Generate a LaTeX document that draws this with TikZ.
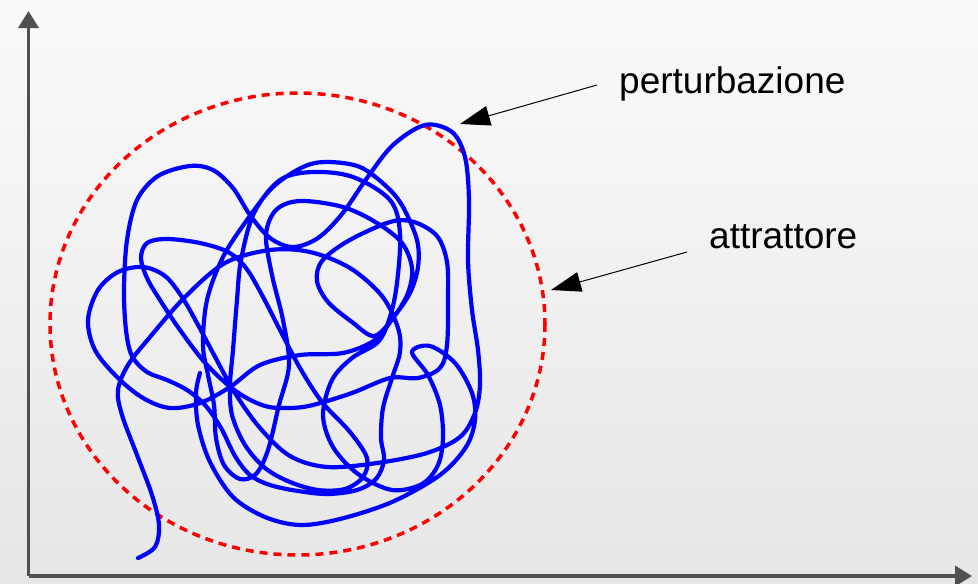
\documentclass[tikz,border=0pt]{standalone}
\usepackage{fontspec}
\setmainfont{Liberation Sans}
\usetikzlibrary{arrows.meta}
\definecolor{axisgray}{RGB}{80,80,80}
\definecolor{trajblue}{RGB}{0,0,255}
\definecolor{attrred}{RGB}{255,0,0}
\tikzset{
  axisline/.style={draw=axisgray, line width=3.5pt, -{Triangle[length=17pt,width=20pt]}},
  trajectory/.style={draw=trajblue, line width=4.2pt, line cap=round, line join=round},
  attractor/.style={draw=attrred, line width=3.5pt, dash pattern=on 8pt off 6pt},
  pointer/.style={draw=black, line width=1pt, -{Triangle[length=30pt,width=20pt]}},
  caption/.style={font=\fontsize{37}{44}\selectfont, anchor=base west, inner sep=0pt, text=black},
}
\begin{document}
\begin{tikzpicture}[x=1pt, y=-1pt]
  % background
  \shade[top color={rgb,255:red,250;green,250;blue,250}, bottom color={rgb,255:red,230;green,230;blue,230}]
    (0,0) rectangle (978,584);
  \useasboundingbox (0,0) rectangle (978,584);

  % axes
  \coordinate (origin) at (28.5,576);
  \coordinate (ytip) at (28.5,11);
  \coordinate (xtip) at (972,576);
  \draw[axisline] (origin) -- (ytip);
  \draw[axisline] (origin) -- (xtip);

  % attractor boundary
  \draw[attractor] (297.5,324) ellipse [x radius=247.5, y radius=231];

  % chaotic trajectory
  \draw[trajectory] plot[smooth, tension=0.55] coordinates {
    (138,558) (155,547) (159,525) (152,495) (137,455) (122,415) (118,390) (128,365)
    (150,337) (185,297) (225,263) (270,250) (310,252) (350,268) (382,296) (398,328) (400,352)
    (392,378) (383,408) (381,438) (384,460) (376,479) (357,490) (328,494) (298,491)
    (270,485) (250,475) (235,456) (221,428) (205,405) (187,390) (167,380) (147,372)
    (132,356) (126,330)
    (124,290) (127,240) (137,200) (158,176) (190,166) (213,170) (233,188) (250,215)
    (270,238) (293,247) (318,238) (342,214) (367,178) (393,145) (425,125) (452,132)
    (465,157) (469,200) (468,260) (472,310) (478,350) (480,385) (475,413)
    (460,437) (427,453) (377,463) (327,467) (290,456) (260,428) (235,393) (213,353)
    (197,323) (182,297) (165,276) (143,267) (118,272) (98,290) (88,320) (95,350)
    (117,377) (143,398) (170,408) (200,403) (230,387) (260,365) (300,355) (343,353) (375,340)
    (393,318) (410,293) (418,267) (417,240) (403,207) (387,187) (360,167) (327,162)
    (303,167) (273,187) (247,220) (223,257) (207,300) (203,345) (208,375)
    (214,405) (216,438) (224,465) (240,479) (256,474) (268,450) (279,405) (289,365)
    (283,320) (272,275) (266,235) (276,210) (300,201) (343,207) (377,223) (402,243)
    (412,268) (408,293) (393,318) (374,336)
    (352,322) (328,302) (317,281) (322,261) (348,241) (390,222) (414,222) (437,236)
    (447,262) (448,300) (447,345) (440,368) (418,378) (390,378)
    (352,393) (313,405) (290,408) (265,406) (237,392) (207,365) (180,330) (160,300)
    (147,278) (141,258) (147,243) (167,239) (200,243) (228,252) (246,268) (262,295)
    (280,330) (300,368) (322,402) (350,432) (367,458) (363,477) (345,489) (318,490)
    (290,482) (265,468) (245,445) (232,415) (230,385) (233,350) (237,300) (241,260)
    (254,213) (280,180) (313,172) (353,177) (390,200) (400,233) (397,283) (390,317) (378,342)
    (352,358) (332,380) (323,415) (333,447) (358,474) (392,490) (422,484) (438,465)
    (443,438) (440,405) (428,375) (412,352) (430,346) (455,363) (472,393) (475,420)
    (466,447) (440,475) (392,502) (340,519) (300,525) (265,517) (233,497) (210,462)
    (198,425) (196,393) (200,373)
  };

  % labels and pointers
  \node[caption] (pert) at (619,93) {perturbazione};
  \node[caption] (attr) at (709,248) {attrattore};
  \coordinate (pertstart) at (597,85);
  \coordinate (perttip) at (460,124);
  \coordinate (attrstart) at (687,252);
  \coordinate (attrtip) at (551,290);
  \draw[pointer] (pertstart) -- (perttip);
  \draw[pointer] (attrstart) -- (attrtip);
\end{tikzpicture}
\end{document}
